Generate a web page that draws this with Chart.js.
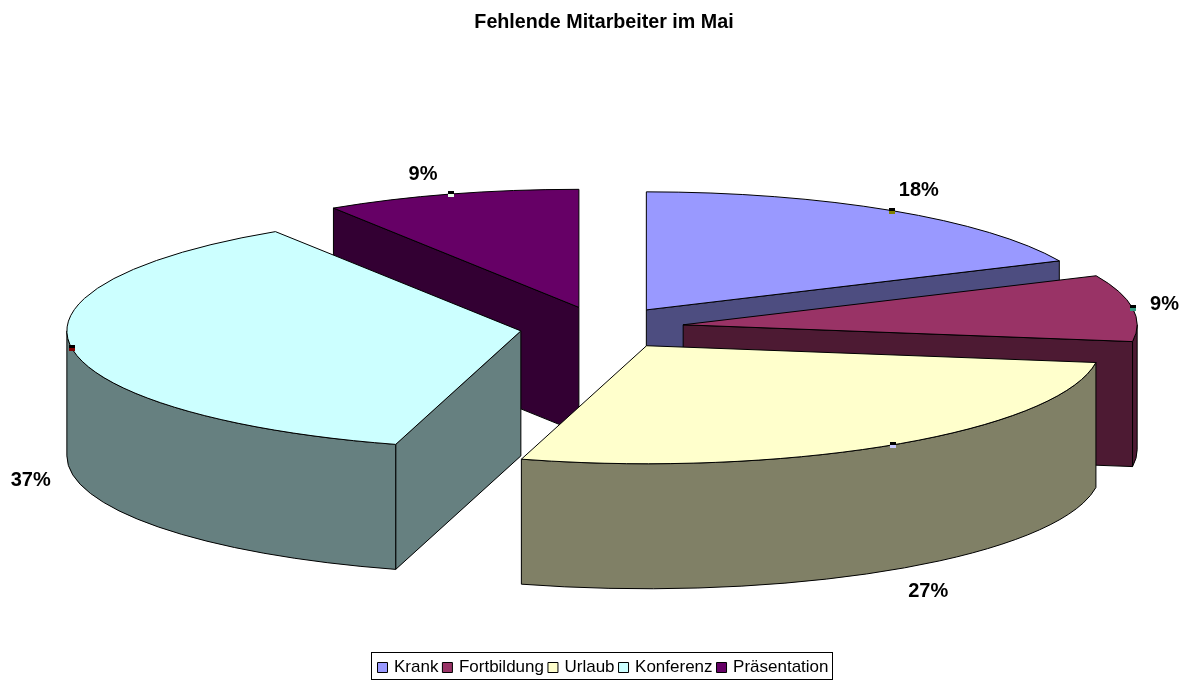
<!DOCTYPE html>
<html lang="de">
<head>
<meta charset="utf-8">
<title>Fehlende Mitarbeiter im Mai</title>
<script src="https://cdn.jsdelivr.net/npm/chart.js@4.4.0/dist/chart.umd.min.js"></script>
<style>
    html, body { margin: 0; padding: 0; background: #fff; overflow: hidden; }
    #wrap { width: 1187px; height: 680px; }
</style>
</head>
<body>
<div id="wrap"><canvas id="pie"></canvas></div>
<script>
// Daten
const categories = ['Krank', 'Fortbildung', 'Urlaub', 'Konferenz', 'Präsentation'];
const values = [18.2, 9.1, 27.2, 36.5, 9.1];
const percentLabels = ['18%', '9%', '27%', '37%', '9%'];

// Farben
const topColors = ['#9999ff', '#993366', '#ffffcc', '#ccffff', '#660066'];
const sideColors = ['#4d4d80', '#4d1a33', '#808066', '#668080', '#330033'];
const markerColors = ['#808000', '#339980', '#c8c8ff', '#800000', '#e8ffe8'];

// 3D-Look: Tortenform flach gedrückt, mit Tiefe und Explosion
const squash = 0.26;
const depth = 125;
const explode = 82;
const radius = 454;
const lift = 20;
const nudgeX = -2;
// Abstand Beschriftung zum Randpunkt
const labelShift = [[27, -20], [32, -4], [35, 22], [-41, 7], [-28, -20]];

const fontName = '"Liberation Sans", Arial, sans-serif';

function drawSlice(ctx, arc, i) {
    const a = arc.startAngle, b = arc.endAngle;
    const mid = (a + b) / 2;
    const cx = arc.x + nudgeX + explode * Math.cos(mid);
    const cy = arc.y - lift + explode * squash * Math.sin(mid);
    const r = arc.outerRadius;
    const ry = r * squash;
    const px = t => cx + r * Math.cos(t);
    const py = t => cy + ry * Math.sin(t);

    ctx.lineWidth = 1;
    ctx.strokeStyle = '#000';
    ctx.fillStyle = sideColors[i];

    // Schnittflächen, nur wenn sie nach vorne zeigen
    const cuts = [];
    if (Math.cos(a) < -1e-6) cuts.push(a);
    if (Math.cos(b) > 1e-6) cuts.push(b);
    cuts.forEach(t => {
        ctx.beginPath();
        ctx.moveTo(cx, cy);
        ctx.lineTo(px(t), py(t));
        ctx.lineTo(px(t), py(t) + depth);
        ctx.lineTo(cx, cy + depth);
        ctx.closePath();
        ctx.fill();
        ctx.stroke();
    });

    // Außenwand
    const lo = Math.max(a, 0), hi = Math.min(b, Math.PI);
    if (hi > lo) {
        ctx.beginPath();
        ctx.ellipse(cx, cy, r, ry, 0, lo, hi);
        ctx.ellipse(cx, cy + depth, r, ry, 0, hi, lo, true);
        ctx.closePath();
        ctx.fill();
        ctx.stroke();
    }

    // Deckel
    ctx.fillStyle = topColors[i];
    ctx.beginPath();
    ctx.moveTo(cx, cy);
    ctx.ellipse(cx, cy, r, ry, 0, a, b);
    ctx.closePath();
    ctx.fill();
    ctx.stroke();

    return { cx, cy, mx: px(mid), my: py(mid), mid };
}

function drawLabel(ctx, geo, i) {
    const x = Math.round(geo.mx), y = Math.round(geo.my);
    ctx.fillStyle = '#000';
    ctx.fillRect(x - 3, y - 3, 6, 3);
    ctx.fillStyle = markerColors[i];
    ctx.fillRect(x - 3, y, 6, 3);

    const base = Math.sin(geo.mid) > 0 ? geo.my + depth : geo.my;
    ctx.fillStyle = '#000';
    ctx.font = 'bold 20px ' + fontName;
    ctx.textAlign = 'center';
    ctx.textBaseline = 'middle';
    ctx.fillText(percentLabels[i], geo.mx + labelShift[i][0], base + labelShift[i][1]);
}

const pie3d = {
    id: 'pie3d',
    beforeDatasetDraw(chart, args) {
        const ctx = chart.ctx;
        const arcs = chart.getDatasetMeta(args.index).data;
        // von hinten nach vorne malen
        const order = arcs.map((arc, i) => i).sort((p, q) => {
            const midY = n => Math.sin((arcs[n].startAngle + arcs[n].endAngle) / 2);
            return midY(p) - midY(q);
        });
        ctx.save();
        const geos = [];
        order.forEach(i => { geos[i] = drawSlice(ctx, arcs[i], i); });
        order.forEach(i => drawLabel(ctx, geos[i], i));
        ctx.restore();
        return false;
    },
    afterDraw(chart) {
        // Rahmen um die Legende
        const boxes = chart.legend.legendHitBoxes, ctx = chart.ctx;
        const first = boxes[0], last = boxes[boxes.length - 1];
        const left = Math.round(first.left) - 8.5;
        const right = Math.round(last.left + last.width) + 4.5;
        ctx.save();
        ctx.strokeStyle = '#000';
        ctx.lineWidth = 1;
        ctx.strokeRect(left, 652.5, right - left, 27);
        ctx.restore();
    }
};

new Chart(document.getElementById('pie'), {
    type: 'pie',
    data: {
        labels: categories,
        datasets: [{
            data: values,
            backgroundColor: topColors,
            borderColor: '#000',
            borderWidth: 1,
            radius: radius
        }]
    },
    options: {
        responsive: true,
        maintainAspectRatio: false,
        animation: false,
        events: [],
        layout: { padding: { left: 21, bottom: -6 } },
        plugins: {
            title: {
                display: true,
                text: 'Fehlende Mitarbeiter im Mai',
                color: '#000',
                font: { family: fontName, size: 19.7, weight: 'bold' },
                padding: { top: 11, bottom: 8 }
            },
            legend: {
                position: 'bottom',
                labels: {
                    color: '#000',
                    font: { family: fontName, size: 17 },
                    usePointStyle: true,
                    pointStyle: 'rect',
                    boxWidth: 6,
                    boxHeight: 10,
                    padding: 6
                }
            },
            tooltip: { enabled: false }
        }
    },
    plugins: [pie3d]
});
</script>
</body>
</html>
